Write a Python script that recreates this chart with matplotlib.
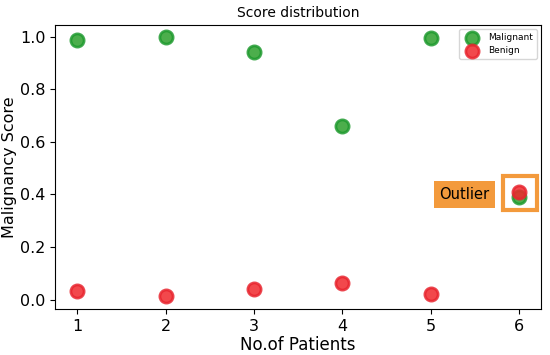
import matplotlib.pyplot as plt
from matplotlib.patches import Rectangle

patients = [1, 2, 3, 4, 5, 6]
malignant = [0.989, 0.997, 0.942, 0.662, 0.996, 0.390]
benign = [0.034, 0.015, 0.040, 0.065, 0.023, 0.410]

fig, ax = plt.subplots(figsize=(5.5, 3.55), dpi=100)

ax.scatter(patients, malignant, s=90, color='#2ca02c', alpha=0.85,
           edgecolors='#1f9a2f', linewidths=2, label='Malignant', zorder=3)
ax.scatter(patients, benign, s=90, color='#f0282d', alpha=0.85,
           edgecolors='#e8252f', linewidths=2, label='Benign', zorder=3)

# outlier highlight
ax.add_patch(Rectangle((5.82, 0.342), 0.38, 0.13, fill=False,
                       edgecolor='#f39a3c', linewidth=3, zorder=4))
ax.text(5.38, 0.40, 'Outlier', fontsize=10.5, ha='center', va='center',
        bbox=dict(facecolor='#f39a3c', edgecolor='none', pad=4))

ax.set_xlim(0.75, 6.25)
ax.set_ylim(-0.035, 1.045)
ax.set_title('Score distribution', fontsize=10)
ax.set_xlabel('No.of Patients', fontsize=12, labelpad=2)
ax.set_ylabel('Malignancy Score', fontsize=11.5, labelpad=2)
ax.set_xticks(patients)
ax.tick_params(labelsize=11.5)
ax.legend(loc='upper right', fontsize=6.5)

plt.subplots_adjust(left=0.1, right=0.984, top=0.93, bottom=0.13)
plt.savefig('out.png')
